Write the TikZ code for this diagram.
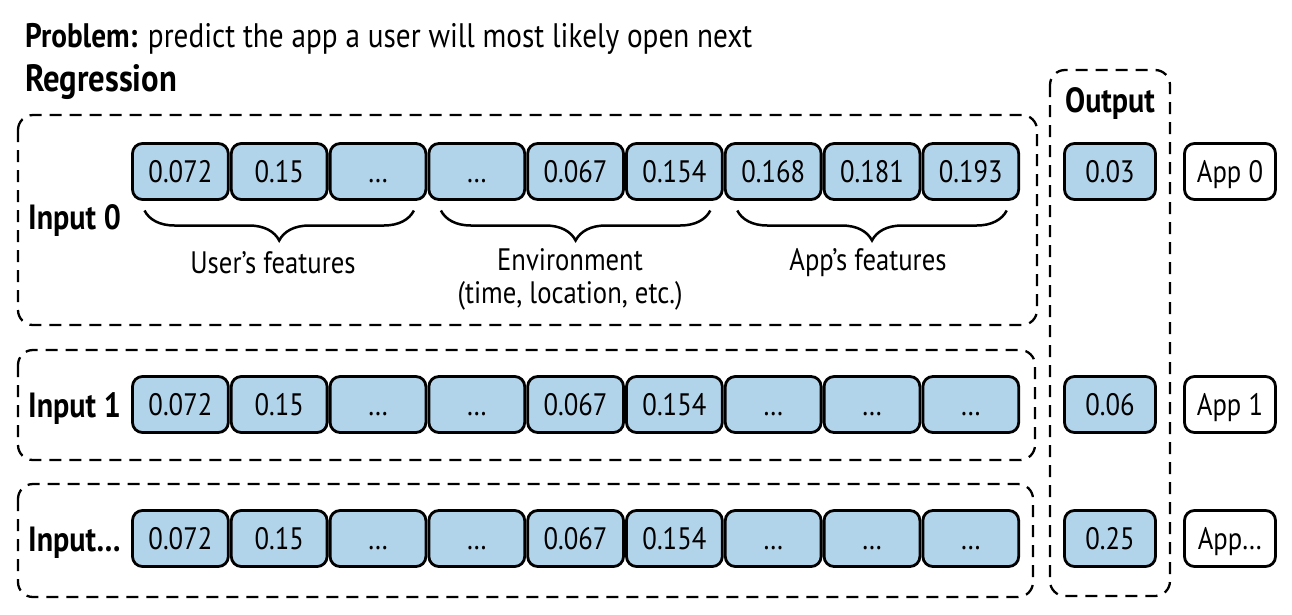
\documentclass[tikz,border=0pt]{standalone}
\usepackage{fontspec}
\setmainfont{PT Sans}[FakeStretch=0.86]
\usetikzlibrary{positioning,decorations.pathreplacing}
\definecolor{cellblue}{RGB}{178,212,234}
\tikzset{
  cell/.style={draw,line width=2.8pt,rounded corners=10pt,fill=cellblue,
    minimum width=95.8pt,minimum height=56pt,inner sep=0pt,outer sep=0pt,
    text height=22pt,text depth=0pt,font=\fontsize{31}{36}\selectfont},
  outcell/.style={cell,minimum width=91pt},
  appcell/.style={cell,fill=white,minimum width=91pt},
  group/.style={line width=2.3pt,dash pattern=on 12pt off 8pt,rounded corners=15pt},
  brace/.style={decorate,decoration={brace,mirror,amplitude=30pt},line width=2.5pt},
  inlabel/.style={anchor=base west,inner sep=0pt,font=\fontsize{35}{40}\selectfont\bfseries},
  bracelabel/.style={align=center,inner sep=0pt,font=\fontsize{31}{33}\selectfont}
}
\begin{document}
\begin{tikzpicture}[x=1pt,y=-1pt]
\useasboundingbox (0,0) rectangle (1292,614);
\draw (25,47) node[anchor=base west,inner sep=0pt,font=\fontsize{34}{38}\selectfont] (title) {\textbf{Problem:} predict the app a user will most likely open next};
\draw (25,91) node[anchor=base west,inner sep=0pt,font=\fontsize{38}{40}\selectfont\bfseries] (regr) {Regression};

% input 0
\draw[group] (18,115) rectangle (1037,325);
\draw (28,229.5) node[inlabel] (in0) {Input 0};
\draw (180.4,171.5) node[cell] (A1) {0.072};
\draw (279.2,171.5) node[cell] (A2) {0.15};
\draw (378.0,171.5) node[cell] (A3) {…};
\draw (476.8,171.5) node[cell] (A4) {…};
\draw (575.6,171.5) node[cell] (A5) {0.067};
\draw (674.4,171.5) node[cell] (A6) {0.154};
\draw (773.2,171.5) node[cell] (A7) {0.168};
\draw (872.0,171.5) node[cell] (A8) {0.181};
\draw (970.8,171.5) node[cell] (A9) {0.193};
\draw[brace] ([xshift=12pt,yshift=-11pt]A1.south west) -- ([xshift=-12pt,yshift=-11pt]A3.south east);
\draw[brace] ([xshift=12pt,yshift=-11pt]A4.south west) -- ([xshift=-12pt,yshift=-11pt]A6.south east);
\draw[brace] ([xshift=12pt,yshift=-11pt]A7.south west) -- ([xshift=-12pt,yshift=-11pt]A9.south east);
\draw (273,263) node[bracelabel] (user) {User’s features};
\draw (570,279.5) node[bracelabel] (env) {Environment\\(time, location, etc.)};
\draw (868,263) node[bracelabel] (appf) {App’s features};

% input 1
\draw[group] (18,350) rectangle (1035,460);
\draw (28,417) node[inlabel] (in1) {Input 1};
\draw (180.4,404.5) node[cell] (B1) {0.072};
\draw (279.2,404.5) node[cell] (B2) {0.15};
\draw (378.0,404.5) node[cell] (B3) {…};
\draw (476.8,404.5) node[cell] (B4) {…};
\draw (575.6,404.5) node[cell] (B5) {0.067};
\draw (674.4,404.5) node[cell] (B6) {0.154};
\draw (773.2,404.5) node[cell] (B7) {…};
\draw (872.0,404.5) node[cell] (B8) {…};
\draw (970.8,404.5) node[cell] (B9) {…};

% input ...
\draw[group] (18,484) rectangle (1033,597);
\draw (28,551) node[inlabel] (in2) {Input…};
\draw (180.4,538.5) node[cell] (C1) {0.072};
\draw (279.2,538.5) node[cell] (C2) {0.15};
\draw (378.0,538.5) node[cell] (C3) {…};
\draw (476.8,538.5) node[cell] (C4) {…};
\draw (575.6,538.5) node[cell] (C5) {0.067};
\draw (674.4,538.5) node[cell] (C6) {0.154};
\draw (773.2,538.5) node[cell] (C7) {…};
\draw (872.0,538.5) node[cell] (C8) {…};
\draw (970.8,538.5) node[cell] (C9) {…};

% output column
\draw[group] (1050,70) rectangle (1170,596);
\draw (1110,112) node[anchor=base,inner sep=0pt,font=\fontsize{35}{38}\selectfont\bfseries] (out) {Output};
\draw (1110,171.5) node[outcell] (O0) {0.03};
\draw (1110,404.5) node[outcell] (O1) {0.06};
\draw (1110,538.5) node[outcell] (O2) {0.25};
\draw (1230,171.5) node[appcell] (P0) {App 0};
\draw (1230,404.5) node[appcell] (P1) {App 1};
\draw (1230,538.5) node[appcell] (P2) {App…};
\end{tikzpicture}
\end{document}
